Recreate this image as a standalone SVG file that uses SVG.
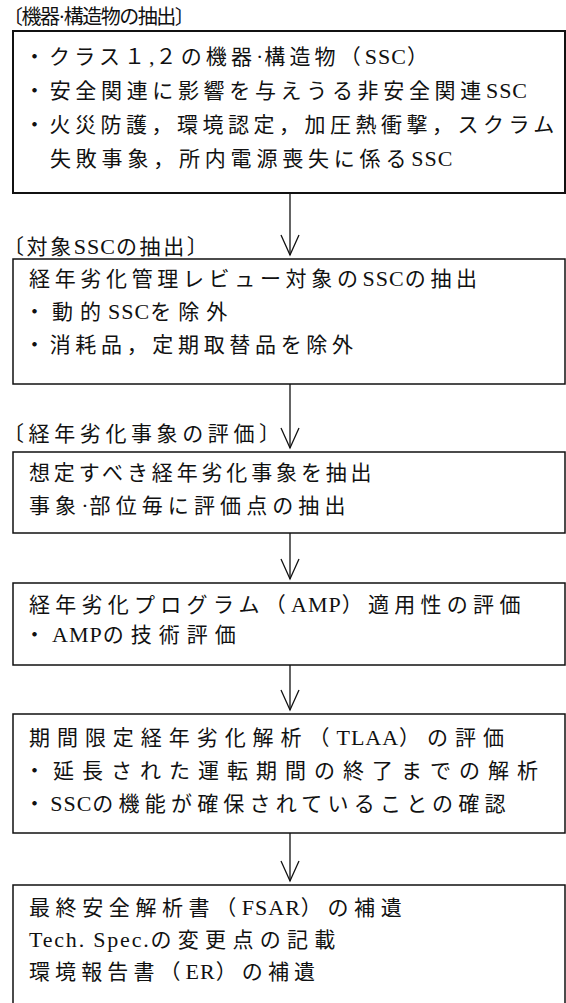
<svg xmlns="http://www.w3.org/2000/svg" width="566" height="1003" viewBox="0 0 566 1003">
<defs>
<style>
.t{font-family:"Liberation Serif","Noto Sans CJK JP",serif;font-size:21px;fill:#111}
.h{font-size:20px}
.l{font-size:22px;letter-spacing:1px}
.ts{letter-spacing:1.8px}
.box{fill:#fff;stroke:#111;stroke-width:1.5}
.box1{stroke-width:2}
.conn{stroke:#111;stroke-width:1.3;fill:none}
</style>
<marker id="arr" viewBox="-22 -11 24 22" refX="0" refY="0" markerWidth="24" markerHeight="22" markerUnits="userSpaceOnUse" orient="auto">
<path d="M-20,-9 L0,0 L-20,9" fill="none" stroke="#111" stroke-width="1.3"/>
</marker>
</defs>
<rect width="566" height="1003" fill="#fff"/>

<g id="connectors">
<line class="conn" x1="290" y1="193" x2="290" y2="255" marker-end="url(#arr)"/>
<line class="conn" x1="290" y1="384" x2="290" y2="448" marker-end="url(#arr)"/>
<line class="conn" x1="290" y1="533" x2="290" y2="579" marker-end="url(#arr)"/>
<line class="conn" x1="290" y1="665" x2="290" y2="710" marker-end="url(#arr)"/>
<line class="conn" x1="290" y1="833" x2="290" y2="881" marker-end="url(#arr)"/>
</g>

<g id="title1"><text class="t h" x="3" y="24" style="letter-spacing:-1.5px">〔機器<tspan font-size="20" style="letter-spacing:-1.5px;font-family:'Liberation Serif',serif">·</tspan>構造物の抽出〕</text></g>
<g id="box1">
<rect class="box box1" x="13" y="31" width="552" height="162"/>
<text class="t" x="24" y="64" style="letter-spacing:4.1px">・クラス１<tspan class="l">,</tspan>２の機器<tspan class="l">·</tspan>構造物（<tspan class="l">SSC</tspan>）</text>
<text class="t" x="24" y="98" style="letter-spacing:4.66px">・安全関連に影響を与えうる非安全関連<tspan class="l">SSC</tspan></text>
<text class="t" x="24" y="132" style="letter-spacing:4.5px">・火災防護，環境認定，加圧熱衝撃，スクラム</text>
<text class="t" x="50" y="166" style="letter-spacing:4.8px">失敗事象，所内電源喪失に係る<tspan class="l">SSC</tspan></text>
</g>

<g id="title2"><text class="t" x="3" y="254" style="letter-spacing:2.6px">〔対象<tspan class="l">SSC</tspan>の抽出〕</text></g>
<g id="box2">
<rect class="box" x="13" y="259" width="552" height="125"/>
<text class="t" x="29" y="286" style="letter-spacing:4.66px">経年劣化管理レビュー対象の<tspan class="l">SSC</tspan>の抽出</text>
<text class="t" x="24" y="319" style="letter-spacing:7px">・動的<tspan class="l">SSC</tspan>を除外</text>
<text class="t" x="24" y="352" style="letter-spacing:4.67px">・消耗品，定期取替品を除外</text>
</g>

<g id="title3"><text class="t" x="3" y="441" style="letter-spacing:4.6px">〔経年劣化事象の評価〕</text></g>
<g id="box3">
<rect class="box" x="13" y="452" width="552" height="81"/>
<text class="t" x="29" y="480" style="letter-spacing:3.85px">想定すべき経年劣化事象を抽出</text>
<text class="t" x="29" y="513" style="letter-spacing:5.1px">事象<tspan class="l">·</tspan>部位毎に評価点の抽出</text>
</g>

<g id="box4">
<rect class="box" x="13" y="583" width="552" height="82"/>
<text class="t" x="29" y="612" style="letter-spacing:5.27px">経年劣化プログラム（<tspan class="l">AMP</tspan>）適用性の評価</text>
<text class="t" x="24" y="642" style="letter-spacing:7px">・<tspan class="l">AMP</tspan>の技術評価</text>
</g>

<g id="box5">
<rect class="box" x="13" y="714" width="552" height="119"/>
<text class="t" x="29" y="745" style="letter-spacing:6.95px">期間限定経年劣化解析（<tspan class="l">TLAA</tspan>）の評価</text>
<text class="t" x="24" y="778" style="letter-spacing:8px">・延長された運転期間の終了までの解析</text>
<text class="t" x="24" y="811" style="letter-spacing:5.2px">・<tspan class="l">SSC</tspan>の機能が確保されていることの確認</text>
</g>

<g id="box6">
<rect class="box" x="13" y="885" width="552" height="125"/>
<text class="t" x="29" y="915" style="letter-spacing:5.6px">最終安全解析書（<tspan class="l">FSAR</tspan>）の補遺</text>
<text class="t" x="29" y="947" style="letter-spacing:6.3px"><tspan class="l ts">Tech. Spec.</tspan>の変更点の記載</text>
<text class="t" x="29" y="979" style="letter-spacing:5.1px">環境報告書（<tspan class="l">ER</tspan>）の補遺</text>
</g>
</svg>
